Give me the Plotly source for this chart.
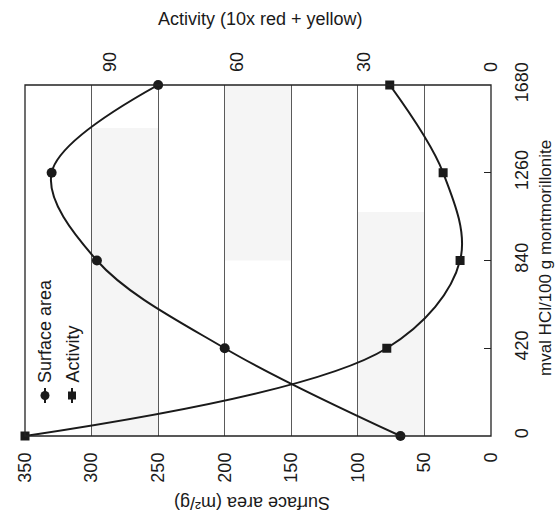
import plotly.graph_objects as go

# Acid activation of montmorillonite: surface area and bleaching activity
mval_hcl = [0, 420, 840, 1260, 1680]          # mval HCl / 100 g montmorillonite
surface_area = [68, 200, 296, 330, 250]       # m²/g
activity = [110, 24.6, 7.3, 11.3, 23.9]       # 10x red + yellow

surface_ticks = [0, 50, 100, 150, 200, 250, 300, 350]
activity_ticks = [0, 30, 60, 90]
mval_ticks = [0, 420, 840, 1260, 1680]

FONT = "Liberation Sans, Arial, sans-serif"
INK = "#1a1a1a"

W, H = 556, 521
L, R, T, B = 25, 65, 85, 85
PW, PH = W - L - R, H - T - B


def px(x):
    return (x - L) / PW


def py(y):
    return (H - B - y) / PH


fig = go.Figure()

fig.add_trace(go.Scatter(
    x=surface_area, y=mval_hcl, xaxis="x", yaxis="y",
    mode="lines+markers", name="Surface area",
    line=dict(color=INK, width=2, shape="spline", smoothing=1.0),
    marker=dict(symbol="circle", size=10, color=INK),
    cliponaxis=False, showlegend=False,
))
fig.add_trace(go.Scatter(
    x=activity, y=mval_hcl, xaxis="x2", yaxis="y",
    mode="lines+markers", name="Activity",
    line=dict(color=INK, width=2, shape="spline", smoothing=1.0),
    marker=dict(symbol="square", size=9, color=INK),
    cliponaxis=False, showlegend=False,
))

# faint shaded bands behind the grid
bands = [(250, 300, 0, 1474), (150, 200, 840, 1680), (50, 100, 0, 1072)]
shapes = []
for x0, x1, y0, y1 in bands:
    shapes.append(dict(type="rect", xref="x", yref="y", x0=x0, x1=x1, y0=y0, y1=y1,
                       fillcolor="#f5f5f5", line=dict(width=0), layer="below"))

# plot frame
shapes.append(dict(type="rect", xref="paper", yref="paper", x0=0, x1=1, y0=0, y1=1,
                   line=dict(color="#222", width=1.3), layer="above"))

# rotated legend: short vertical line with marker, text running upward
legend_items = [("Surface area", 45, "circle"), ("Activity", 72, "square")]
annotations = []
for label, lx, sym in legend_items:
    shapes.append(dict(type="line", xref="paper", yref="paper",
                       x0=px(lx), x1=px(lx), y0=py(388), y1=py(403),
                       line=dict(color=INK, width=2)))
    r = 4.5 if sym == "circle" else 4
    shapes.append(dict(type="circle" if sym == "circle" else "rect",
                       xref="paper", yref="paper",
                       x0=px(lx - r), x1=px(lx + r), y0=py(395.5 + r), y1=py(395.5 - r),
                       fillcolor=INK, line=dict(color=INK, width=0)))
    annotations.append(dict(text=label, xref="paper", yref="paper",
                            x=px(lx), y=py(385), xanchor="center", yanchor="bottom",
                            textangle=-90, showarrow=False,
                            font=dict(family=FONT, size=18, color=INK)))

annotations += [
    dict(text="Surface area (m²/g)", xref="paper", yref="paper",
         x=px(252), y=py(503), xanchor="center", yanchor="middle",
         textangle=180, showarrow=False, font=dict(family=FONT, size=18, color=INK)),
    dict(text="Activity (10x red + yellow)", xref="paper", yref="paper",
         x=px(260), y=py(19), xanchor="center", yanchor="middle",
         showarrow=False, font=dict(family=FONT, size=18, color=INK)),
    dict(text="mval HCl/100 g montmorillonite", xref="paper", yref="paper",
         x=px(545), y=py(258), xanchor="center", yanchor="middle",
         textangle=-90, showarrow=False, font=dict(family=FONT, size=17, color=INK)),
]

tickfont = dict(family=FONT, size=18, color=INK)

fig.update_layout(
    width=W, height=H,
    margin=dict(l=L, r=R, t=T, b=B, pad=0),
    paper_bgcolor="white", plot_bgcolor="white",
    shapes=shapes, annotations=annotations,
    xaxis=dict(range=[350, 0], tickvals=surface_ticks, tickangle=-90,
               showgrid=True, gridcolor="#5a5a5a", gridwidth=1,
               zeroline=False, showline=False, ticks="", ticklabelstandoff=12,
               tickfont=tickfont),
    xaxis2=dict(range=[110, 0], overlaying="x", side="top", tickvals=activity_ticks,
                tickangle=-90, showgrid=False, zeroline=False, showline=False,
                ticks="", ticklabelstandoff=12, tickfont=tickfont),
    yaxis=dict(range=[0, 1680], side="right", tickvals=mval_ticks, tickangle=-90,
               showgrid=False, zeroline=False, showline=False,
               ticks="inside", ticklen=7, tickcolor="#222",
               ticklabelstandoff=18, tickfont=tickfont),
)

fig.write_html("out.html")
